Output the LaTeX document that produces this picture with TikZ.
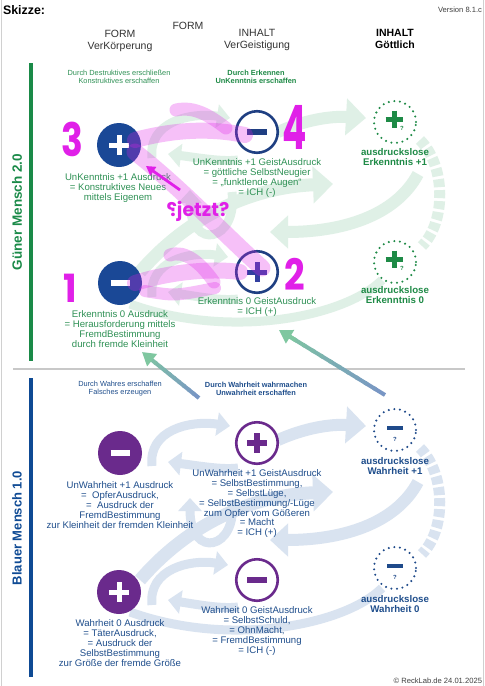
\documentclass[tikz,border=0pt]{standalone}
\usepackage{fontspec}
\setmainfont{Liberation Sans}
\newfontfamily\handfont{Poppins}
\usepackage{graphicx}
\usetikzlibrary{arrows.meta,calc}
\definecolor{gtext}{HTML}{2F9155}
\definecolor{gbold}{HTML}{1E8A46}
\definecolor{btext}{HTML}{1F4E8C}
\definecolor{nblue}{HTML}{1A4896}
\definecolor{oblue}{HTML}{1F3F82}
\definecolor{pblue}{HTML}{3340A0}
\definecolor{purp}{HTML}{6A2A8C}
\definecolor{mag}{HTML}{E020E8}
\definecolor{gpale}{HTML}{DFF0E6}
\definecolor{bpale}{HTML}{D9E3F0}
\definecolor{gdot}{HTML}{1E8A46}
\definecolor{bdot}{HTML}{1F4A8A}
\definecolor{barg}{HTML}{1A8A48}
\definecolor{barb}{HTML}{0E4A94}
\definecolor{agreen}{HTML}{7FC7A0}
\definecolor{ablue}{HTML}{7896C4}
\definecolor{sepc}{HTML}{C8C8C8}
\definecolor{framec}{HTML}{D0D0D0}
\colorlet{dc}{gpale}
\tikzset{
  fillnode/.style={circle, minimum size=44pt, inner sep=0pt, fill=#1},
  ringnode/.style={circle, minimum size=41.5pt, inner sep=0pt, draw=#1, line width=2.6pt},
  dotnode/.style={circle, minimum size=42pt, inner sep=0pt, draw=#1, line width=2.3pt, dash pattern=on 0pt off 5.6pt, line cap=round},
  lblg/.style={align=center, text=gtext, font=\fontsize{9.6}{9.8}\selectfont, anchor=north},
  lblb/.style={align=center, text=btext, font=\fontsize{9.6}{9.8}\selectfont, anchor=north},
  ausg/.style={align=center, text=gbold, font=\bfseries\fontsize{9.7}{10}\selectfont, anchor=north},
  ausb/.style={align=center, text=btext, font=\bfseries\fontsize{9.7}{10}\selectfont, anchor=north},
  capg/.style={align=center, text=gtext, font=\fontsize{7.4}{8}\selectfont, anchor=north},
  capgb/.style={align=center, text=gbold, font=\bfseries\fontsize{7.4}{8}\selectfont, anchor=north},
  capb/.style={align=center, text=btext, font=\fontsize{7.4}{8}\selectfont, anchor=north},
  capbb/.style={align=center, text=btext, font=\bfseries\fontsize{7.4}{8}\selectfont, anchor=north},
  hdr/.style={align=center, text=black!80, font=\fontsize{10.5}{12}\selectfont, anchor=north},
  deco/.style={draw=dc, line width=9pt, -{Triangle[width=23pt,length=13pt]}},
  decoline/.style={draw=dc, line width=9pt},
  pinkst/.style={draw=mag, line width=#1pt, opacity=0.28, line cap=round},
  numst/.style={text=mag, font=\handfont\bfseries\fontsize{36}{36}\selectfont},
}
\newcommand{\mkplus}[4]{\draw[#2, line width=#4pt] ($#1+(-#3,0)$) -- ($#1+(#3,0)$) ($#1+(0,-#3)$) -- ($#1+(0,#3)$);}
\newcommand{\mkminus}[4]{\draw[#2, line width=#4pt] ($#1+(-#3,0)$) -- ($#1+(#3,0)$);}
\newcommand{\decoset}{%
  \draw[deco] (152,466) .. controls (148,430) and (190,420) .. (230,426);
  \draw[deco] (238,468) .. controls (222,470) and (200,466) .. (168,462);
  \draw[deco] (152,605) .. controls (148,569) and (190,559) .. (228,565);
  \draw[deco] (238,607) .. controls (222,609) and (200,605) .. (168,600);
  \draw[deco, line width=12pt, -{Triangle[width=36pt,length=20pt]}] (278,440) .. controls (305,428) and (330,424) .. (366,426);
  \draw[deco, line width=13pt, -{Triangle[width=36pt,length=20pt]}] (140,580) .. controls (190,522) and (255,495) .. (333,492);
  \draw[deco, line width=12pt, -{Triangle[width=32pt,length=18pt]}] (418,482) .. controls (395,525) and (340,540) .. (270,540);
  \draw[deco] (232,500) .. controls (238,550) and (190,560) .. (190,498);
  \draw[decoline] (130,612) .. controls (230,648) and (345,625) .. (382,588);
  \draw[decoline, line width=11pt, dash pattern=on 8pt off 3pt] (420,448) .. controls (446,474) and (446,530) .. (422,554);
}
\newcommand{\gradarrow}[2]{%
  \foreach \i in {0,...,11} {
    \pgfmathsetmacro{\pa}{\i/12}
    \pgfmathsetmacro{\pb}{min((\i+1.3)/12,0.93)}
    \pgfmathtruncatemacro{\cc}{100-\i*9}
    \draw[line width=4pt, draw=ablue!\cc!agreen] ($(#1)!\pa!(#2)$) -- ($(#1)!\pb!(#2)$);
  }
  \draw[line width=4pt, draw=agreen, -{Triangle[width=15pt,length=13pt]}] ($(#1)!0.85!(#2)$) -- (#2);
}
\begin{document}
\begin{tikzpicture}[x=1pt,y=-1pt, every node/.style={inner sep=0pt, outer sep=0pt}]
\useasboundingbox (0,0) rectangle (485,686);
\fill[white] (0,0) rectangle (485,686);
\draw[framec, line width=1.5pt] (1.5,0) -- (1.5,686) (483.3,0) -- (483.3,686);

% pale decorations
\colorlet{dc}{gpale}
\begin{scope}[shift={(0,-308)}]
\decoset
\end{scope}
\colorlet{dc}{bpale}
\decoset

% separator
\draw[sepc, line width=2pt] (13,369) -- (465,369);

% gradient arrows
\coordinate (a1s) at (199,398);
\coordinate (a1e) at (142,352);
\coordinate (a2s) at (385,395);
\coordinate (a2e) at (279,330);
\gradarrow{a1s}{a1e}
\gradarrow{a2s}{a2e}

% side bars and titles
\fill[barg] (29,63) rectangle (33,361);
\fill[barb] (29,378) rectangle (33,677);
\node[rotate=90, text=barg, font=\bfseries\fontsize{13.5}{14}\selectfont] (tg) at (17,212) {Güner Mensch 2.0};
\node[rotate=90, text=barb, font=\bfseries\fontsize{13}{14}\selectfont] (tb) at (17,528) {Blauer Mensch 1.0};

% header
\node[anchor=west, font=\bfseries\fontsize{12.4}{14}\selectfont] (sk) at (3,10.5) {Skizze:};
\node[anchor=east, font=\fontsize{7.6}{9}\selectfont, text=black!75] (ver) at (482,9.5) {Version 8.1.c};
\node[font=\fontsize{10.5}{12}\selectfont, text=black!80] (hform) at (188,26) {FORM};
\node[hdr] (h1) at (120,29.7) {FORM\\VerKörperung};
\node[hdr] (h2) at (257,29.7) {INHALT\\VerGeistigung};
\node[hdr, font=\bfseries\fontsize{10.5}{12}\selectfont, text=black] (h3) at (395,29.7) {INHALT\\Göttlich};

% captions
\node[capg] (cg1) at (119,70) {Durch Destruktives erschließen\\Konstruktives erschaffen};
\node[capgb] (cg2) at (256,70) {Durch Erkennen\\UnKenntnis erschaffen};
\node[capb] (cb1) at (120,381) {Durch Wahres erschaffen\\Falsches erzeugen};
\node[capbb] (cb2) at (256,382) {Durch Wahrheit wahrmachen\\Unwahrheit erschaffen};

% green nodes
\node[fillnode=nblue] (L1g) at (119,145) {};
\node[ringnode=oblue] (M1g) at (257,132) {};
\node[dotnode=gdot] (R1g) at (395,122) {};
\node[fillnode=nblue] (L2g) at (120,283) {};
\node[ringnode=oblue] (M2g) at (257,272) {};
\node[dotnode=gdot] (R2g) at (395,262) {};
\mkplus{(L1g)}{white}{10}{5}
\mkminus{(M1g)}{oblue}{10}{6}
\mkplus{(394,119)}{gdot}{8.5}{5}
\node[text=gdot, font=\bfseries\fontsize{6}{6}\selectfont] (q1) at (402,128) {?};
\mkminus{(L2g)}{white}{9.5}{6}
\mkplus{(M2g)}{pblue}{10}{5}
\mkplus{(394,259)}{gdot}{8.5}{5}
\node[text=gdot, font=\bfseries\fontsize{6}{6}\selectfont] (q2) at (402,268) {?};

% blue nodes
\node[fillnode=purp] (L1b) at (120,453) {};
\node[ringnode=purp] (M1b) at (257,443) {};
\node[dotnode=bdot] (R1b) at (395,430) {};
\node[fillnode=purp] (L2b) at (119,592) {};
\node[ringnode=purp] (M2b) at (257,580) {};
\node[dotnode=bdot] (R2b) at (395,568) {};
\mkminus{(L1b)}{white}{9.5}{6}
\mkplus{(M1b)}{purp}{10}{5.5}
\mkminus{(395,428)}{bdot}{8}{4.5}
\node[text=bdot, font=\bfseries\fontsize{6}{6}\selectfont] (q3) at (395,439) {?};
\mkplus{(L2b)}{white}{10}{5}
\mkminus{(M2b)}{purp}{10}{6}
\mkminus{(395,566)}{bdot}{8}{4.5}
\node[text=bdot, font=\bfseries\fontsize{6}{6}\selectfont] (q4) at (395,577) {?};

% green labels
\node[lblg] (tL1g) at (118,174) {UnKenntnis +1 Ausdruck\\= Konstruktives Neues\\mittels Eigenem};
\node[lblg] (tM1g) at (257,159) {UnKenntnis +1 GeistAusdruck\\= göttliche SelbstNeugier\\= „funktlende Augen“\\= ICH (-)};
\node[ausg] (tR1g) at (395,148) {ausdruckslose\\Erkenntnis +1};
\node[lblg] (tL2g) at (120,311) {Erkenntnis 0 Ausdruck\\= Herausforderung mittels\\FremdBestimmung\\durch fremde Kleinheit};
\node[lblg] (tM2g) at (257,298) {Erkenntnis 0 GeistAusdruck\\= ICH (+)};
\node[ausg] (tR2g) at (395,286) {ausdruckslose\\Erkenntnis 0};

% blue labels
\node[lblb] (tL1b) at (120,482) {UnWahrheit +1 Ausdruck\\=\ \ OpferAusdruck,\\=\ \ Ausdruck der\\FremdBestimmung\\zur Kleinheit der fremden Kleinheit};
\node[lblb] (tM1b) at (257,470) {UnWahrheit +1 GeistAusdruck\\= SelbstBestimmung,\\= SelbstLüge,\\= SelbstBestimmung/-Lüge\\zum Opfer vom Gößeren\\= Macht\\= ICH (+)};
\node[ausb] (tR1b) at (395,457) {ausdruckslose\\Wahrheit +1};
\node[lblb] (tL2b) at (120,620) {Wahrheit 0 Ausdruck\\= TäterAusdruck,\\= Ausdruck der\\SelbstBestimmung\\zur Größe der fremde Größe};
\node[lblb] (tM2b) at (257,607) {Wahrheit 0 GeistAusdruck\\= SelbstSchuld,\\= OhnMacht,\\= FremdBestimmung\\= ICH (-)};
\node[ausb] (tR2b) at (395,595) {ausdruckslose\\Wahrheit 0};

\node[anchor=east, font=\fontsize{7.6}{9}\selectfont, text=black!75] (copy) at (482,681) {© ReckLab.de 24.01.2025};

% pink brush strokes
\draw[pinkst=16] (135,140) .. controls (180,128) and (215,129) .. (245,135);
\draw[pinkst=13] (176,110) .. controls (195,106) and (210,116) .. (226,128);
\draw[pinkst=17] (135,152) .. controls (180,187) and (220,230) .. (262,268);
\draw[pinkst=16] (135,283) .. controls (170,272) and (210,268) .. (240,272);
\draw[pinkst=13] (170,255) .. controls (185,250) and (200,262) .. (214,282);
\draw[pinkst=12] (145,291) .. controls (175,296) .. (215,288);

% magenta pen
\coordinate (pa1) at (180,190);
\coordinate (pa2) at (146,166);
\draw[mag, line width=2.8pt, -{Triangle[width=10pt,length=9pt]}] (pa1) -- (pa2);
\node[numst] (n3) at (72,139) {\scalebox{1}[1.28]{3}};
\node[numst] (n4) at (295,127) {\scalebox{1}[1.7]{4}};
\node[numst] (n1) at (70,288) {\scalebox{1}[1.08]{1}};
\node[numst] (n2) at (295,274) {\scalebox{1}[1.2]{2}};
\node[text=mag, font=\handfont\bfseries\fontsize{19}{19}\selectfont] (jetzt) at (198,211) {\reflectbox{?}jetzt?};
\end{tikzpicture}
\end{document}
